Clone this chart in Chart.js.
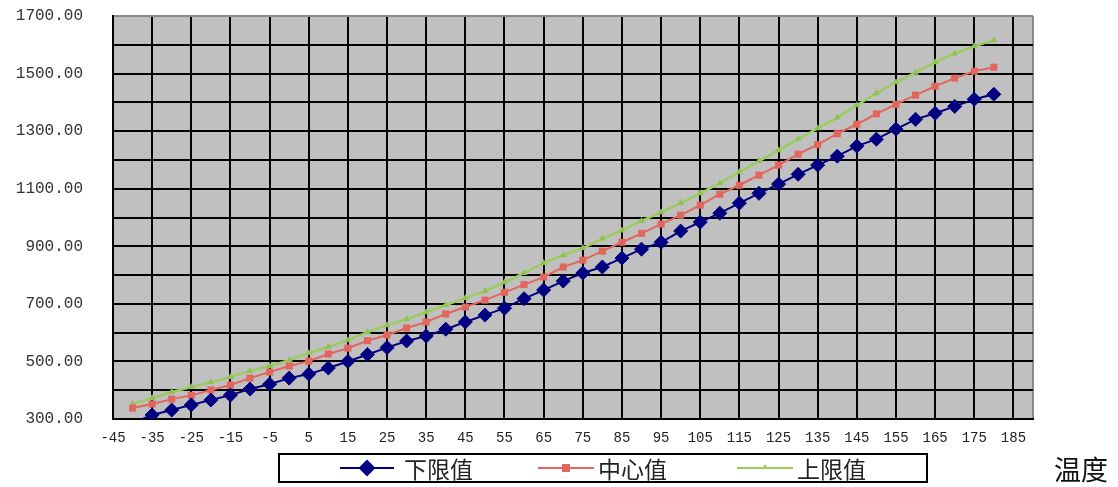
<!DOCTYPE html>
<html>
<head>
<meta charset="utf-8">
<script src="https://cdn.jsdelivr.net/npm/chart.js@4.4.1/dist/chart.umd.min.js"></script>
<style>
  html, body { margin: 0; padding: 0; background: #fff; }
  #wrap { position: relative; width: 1118px; height: 487px; }
  #chart { position: absolute; left: 0; top: 0; }
  #legend {
    position: absolute; left: 278px; top: 453px; width: 650px; height: 30px;
    box-sizing: border-box; border: 2px solid #000; background: #fff;
    font-family: "Noto Sans CJK SC", sans-serif; font-size: 23px; color: #222;
  }
  .ln { position: absolute; top: 12px; height: 2px; }
  .txt { position: absolute; top: 0; line-height: 26px; }
  .mk { position: absolute; }
  #xtitle {
    position: absolute; left: 1054px; top: 449px;
    font-family: "Noto Sans CJK SC", sans-serif; font-size: 27px; color: #111;
  }
</style>
</head>
<body>
<div id="wrap">
  <canvas id="chart" width="1118" height="487"></canvas>
  <div id="legend"></div>
  <div id="xtitle">温度</div>
</div>
<script>
// temperature categories (every 5 degrees), labels shown on every other one
const temps = [-45, -40, -35, -30, -25, -20, -15, -10, -5, 0, 5, 10, 15, 20, 25, 30, 35, 40, 45, 50, 55, 60, 65, 70, 75, 80, 85, 90, 95, 100, 105, 110, 115, 120, 125, 130, 135, 140, 145, 150, 155, 160, 165, 170, 175, 180, 185, 190];

const lowerLimit = [null, 286, 314, 331, 349, 366, 383, 404, 421, 442, 456, 477, 500, 524, 548, 571, 588, 612, 637, 661, 685, 718, 748, 779, 807, 828, 859, 890, 914, 953, 984, 1015, 1050, 1084, 1116, 1150, 1182, 1213, 1248, 1272, 1307, 1341, 1362, 1386, 1411, 1428, null, null];
const center = [null, 338, 352, 369, 382, 401, 418, 442, 463, 484, 501, 526, 546, 572, 592, 616, 637, 665, 689, 713, 740, 767, 793, 828, 852, 883, 914, 945, 977, 1008, 1043, 1081, 1112, 1147, 1182, 1220, 1253, 1291, 1324, 1360, 1393, 1425, 1456, 1484, 1508, 1522, null, null];
const upperLimit = [null, 352, 373, 394, 411, 428, 446, 467, 484, 504, 529, 550, 574, 602, 626, 647, 671, 696, 720, 744, 775, 807, 842, 869, 894, 926, 955, 988, 1018, 1050, 1084, 1119, 1158, 1196, 1234, 1272, 1310, 1347, 1390, 1432, 1470, 1503, 1539, 1570, 1595, 1616, null, null];

const seriesNames = ["下限值", "中心值", "上限值"];
const yMin = 300, yMax = 1700, yStep = 100;

const plotBg = {
  id: "plotBg",
  beforeDraw(chart) {
    const a = chart.chartArea;
    const ctx = chart.ctx;
    ctx.save();
    ctx.fillStyle = "#c0c0c0";
    ctx.fillRect(a.left, a.top, a.right - a.left, a.bottom - a.top);
    ctx.restore();
  },
};

const monoFamily = "'Liberation Mono', 'DejaVu Sans Mono', monospace";
// hide markers that fall below the axis minimum (the line still runs off the bottom)
const radiusIn = (r) => (ctx) => (ctx.raw != null && ctx.raw < yMin ? 0 : r);

new Chart(document.getElementById("chart"), {
  type: "line",
  data: {
    labels: temps.map(String),
    datasets: [
      {
        label: seriesNames[0],
        data: lowerLimit,
        borderColor: "#000080",
        backgroundColor: "#000080",
        borderWidth: 2,
        pointStyle: "rectRot",
        pointRadius: radiusIn(7),
        pointBorderWidth: 1,
        tension: 0,
      },
      {
        label: seriesNames[1],
        data: center,
        borderColor: "#e2665e",
        backgroundColor: "#e2665e",
        borderWidth: 2,
        pointStyle: "rect",
        pointRadius: radiusIn(5),
        pointBorderWidth: 0,
        tension: 0,
      },
      {
        label: seriesNames[2],
        data: upperLimit,
        borderColor: "#9ccc5e",
        backgroundColor: "#8fc252",
        borderWidth: 2.5,
        pointStyle: "triangle",
        pointRadius: radiusIn(4),
        pointBorderWidth: 0,
        tension: 0,
      },
    ],
  },
  options: {
    responsive: false,
    animation: false,
    layout: { padding: { top: 16, right: 85, left: 0, bottom: 0 } },
    plugins: {
      legend: { display: false },
      tooltip: { enabled: false },
    },
    scales: {
      x: {
        offset: false,
        afterFit: (s) => { s.height = 68; },
        border: { display: true, color: "#000", width: 2 },
        grid: {
          drawTicks: false,
          lineWidth: 2,
          color: (ctx) =>
            ctx.index % 2 === 0 ? "#000" : ctx.index === temps.length - 1 ? "#8a8a8a" : "rgba(0,0,0,0)",
        },
        ticks: {
          autoSkip: false,
          maxRotation: 0,
          padding: 11,
          color: "#222",
          font: { family: monoFamily, size: 14 },
          callback: (val, i) => (i % 2 === 0 ? temps[i] : ""),
        },
      },
      y: {
        min: yMin,
        max: yMax,
        afterFit: (s) => { s.width = 113; },
        border: { display: true, color: "#000", width: 2 },
        grid: {
          drawTicks: true,
          tickLength: 30,
          tickColor: "rgba(0,0,0,0)",
          lineWidth: 2,
          color: (ctx) => (ctx.tick && ctx.tick.value === yMax ? "#8a8a8a" : "#000"),
        },
        ticks: {
          stepSize: yStep,
          padding: 0,
          color: "#333",
          font: { family: monoFamily, size: 16 },
          callback: (v) => ((v - yMin) % 200 === 0 ? v.toFixed(2) : ""),
        },
      },
    },
  },
  plugins: [plotBg],
});

// legend box (line + marker + text)
const legend = document.getElementById("legend");
const legendItems = [
  { name: seriesNames[0], color: "#000080", lineLeft: 60, lineW: 54, textLeft: 124, marker: "diamond" },
  { name: seriesNames[1], color: "#e2665e", lineLeft: 258, lineW: 56, textLeft: 318, marker: "square" },
  { name: seriesNames[2], color: "#9ccc5e", lineLeft: 457, lineW: 56, textLeft: 517, marker: "triangle" },
];
legendItems.forEach((it) => {
  const cx = it.lineLeft + it.lineW / 2;
  let mk = "";
  if (it.marker === "diamond") {
    mk = `<span class="mk" style="left:${cx - 6}px;top:7px;width:12px;height:12px;background:${it.color};transform:rotate(45deg)"></span>`;
  } else if (it.marker === "square") {
    mk = `<span class="mk" style="left:${cx - 4}px;top:9px;width:8px;height:8px;background:${it.color}"></span>`;
  } else {
    mk = `<span class="mk" style="left:${cx - 3}px;top:9px;width:0;height:0;border-left:3px solid transparent;border-right:3px solid transparent;border-bottom:5px solid ${it.color}"></span>`;
  }
  legend.innerHTML += `
    <span class="ln" style="left:${it.lineLeft}px;width:${it.lineW}px;background:${it.color}"></span>
    ${mk}
    <span class="txt" style="left:${it.textLeft}px">${it.name}</span>
  `;
});
</script>
</body>
</html>
